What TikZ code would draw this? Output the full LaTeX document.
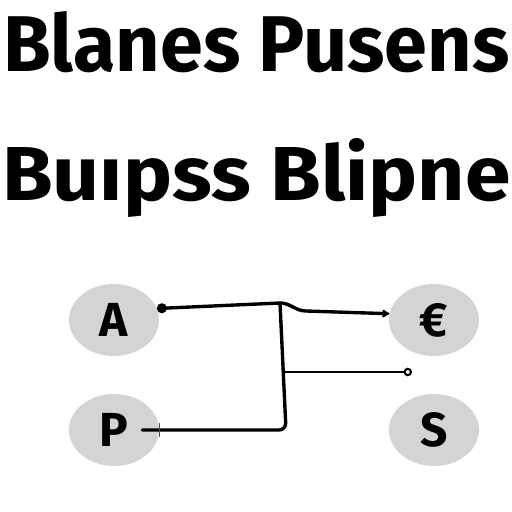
\documentclass[tikz,border=0pt]{standalone}
\usepackage{fontspec}
\setmainfont{Fira Sans}
\usetikzlibrary{shapes.geometric, arrows.meta}
\definecolor{bubblegray}{RGB}{212, 212, 212}

\begin{document}
\begin{tikzpicture}[x=0.025cm, y=-0.025cm,
    bubble/.style={ellipse, fill=bubblegray, minimum width=2.25cm, minimum height=1.8cm, inner sep=0pt, font=\fontsize{34}{38}\selectfont\bfseries},
    wire/.style={line width=2.4pt, line cap=round, line join=round},
    thinwire/.style={line width=1.5pt, line cap=round}]
    \useasboundingbox (0,0) rectangle (512,512);
    % Title text
    \node[anchor=base west, inner sep=0pt] (title1) at (3,72) {\resizebox{12.65cm}{1.5cm}{\bfseries Blanes Pusens}};
    \node[anchor=base west, inner sep=0pt] (title2) at (2,200) {\resizebox{12.7cm}{1.55cm}{\bfseries Buıpss Blipne}};
    % Bubbles
    \node[bubble] (A) at (114,320) {A};
    \node[bubble] (P) at (114,430) {P};
    \node[bubble] (E) at (434,320) {€};
    \node[bubble] (S) at (434,430) {S};
    % Junctions
    \coordinate (j1) at (280,303);
    \coordinate (j2) at (306,311);
    \coordinate (j3) at (284,372);
    \coordinate (j4) at (286,430);
    \coordinate (tip) at (412,372);
    % Connectors
    \draw[wire, {Circle[length=7pt]}-{Latex[length=6pt,width=7pt,round]}] (A.15) -- (j1) to[out=0, in=180] (j2) -- (E.172);
    \draw[wire, rounded corners=5pt] (j1) -- (j4) -- ([xshift=-12pt]P.east);
    \draw[line width=0.8pt, gray!60!black] ([yshift=-5pt]P.east) -- ([yshift=5pt]P.east);
    \draw[thinwire, -{Circle[open,length=6pt,width=6pt]}] (j3) -- (tip);
\end{tikzpicture}
\end{document}
